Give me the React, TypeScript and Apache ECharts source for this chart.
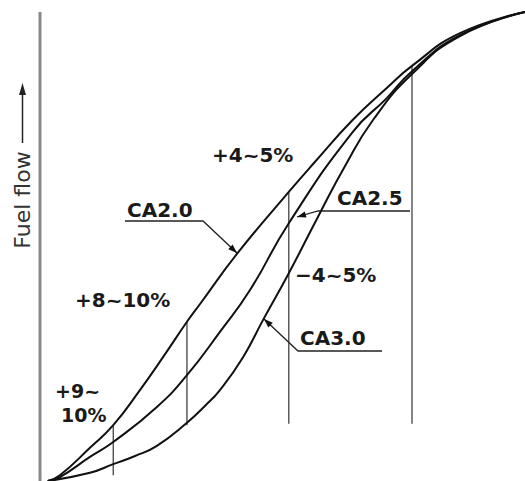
import React, { useEffect, useRef } from "react";
import * as echarts from "echarts";

// Curve CA2.0 (richest mixture)
const ca20X = [1.6, 4.1, 10.3, 15.1, 20.6, 25.4, 30.3, 33.0, 40.6, 51.3, 56.3, 64.5, 71.5, 76.7, 86.6, 100];
const ca20Y = [0, 1.2, 6.9, 11.6, 18.9, 25.8, 33.1, 36.8, 47.2, 60.1, 65.9, 75.1, 81.7, 86.3, 93.1, 97.5];
// Curve CA2.5
const ca25X = [1.6, 4.1, 10.3, 15.1, 24.1, 30.3, 37.1, 43.3, 51.3, 64.5, 71.5, 76.7, 86.6, 100];
const ca25Y = [0, 0.8, 5.0, 8.1, 15.4, 22.0, 31.0, 39.7, 53.6, 72.6, 79.6, 85.2, 92.7, 97.5];
// Curve CA3.0
const ca30X = [1.6, 10.3, 15.1, 19.6, 24.1, 30.3, 34.0, 37.1, 41.9, 46.0, 51.3, 57.3, 62.9, 68.7, 76.7, 86.6, 100];
const ca30Y = [0, 1.7, 3.5, 5.2, 7.3, 12.1, 15.6, 18.9, 25.8, 33.5, 43.2, 54.9, 65.5, 75.1, 84.6, 92.5, 97.5];
// Reference verticals
const refX = [15.1, 30.3, 51.3, 76.7];
const refTop = [11.6, 33.1, 60.1, 86.3];
const refBottom = [1.2, 11.6, 11.9, 11.9];
// Y axis line extent
const axisTop = 97.5;

const zip = (xs: number[], ys: number[]) => xs.map((x, i) => [x, ys[i]]);

function arrowHead(tip: number[], from: number[], len = 9, half = 3.2) {
  const dx = tip[0] - from[0];
  const dy = tip[1] - from[1];
  const d = Math.hypot(dx, dy) || 1;
  const ux = dx / d, uy = dy / d;
  const bx = tip[0] - ux * len, by = tip[1] - uy * len;
  return [tip, [bx - uy * half, by + ux * half], [bx + uy * half, by - ux * half]];
}

const FONT = "DejaVu Sans";
const textEl = (text: string, x: number, y: number, size = 20) => ({
  type: "text",
  x,
  y,
  style: {
    text,
    fill: "#1a1a1a",
    font: `bold ${size}px "${FONT}"`,
    textAlign: "left",
    textVerticalAlign: "middle",
  },
});

const leader = (pts: number[][]) => [
  {
    type: "polyline",
    shape: { points: pts },
    style: { stroke: "#222", lineWidth: 1.3, fill: null },
  },
  {
    type: "polygon",
    shape: { points: arrowHead(pts[pts.length - 1], pts[pts.length - 2]) },
    style: { fill: "#111" },
  },
];

export default function App() {
  const ref = useRef<HTMLDivElement>(null);
  useEffect(() => {
    if (!ref.current) return;
    const chart = echarts.init(ref.current, undefined, { renderer: "svg" });
    const curve = (name: string, xs: number[], ys: number[]) => ({
      name,
      type: "line",
      data: zip(xs, ys),
      smooth: 0.5,
      showSymbol: false,
      clip: false,
      lineStyle: { color: "#111", width: 2 },
    });
    const verticals = refX.map((x, i) => ({
      type: "line",
      data: [
        [x, refTop[i]],
        [x, refBottom[i]],
      ],
      showSymbol: false,
      lineStyle: { color: "#333", width: 1.2 },
    }));
    const option: any = {
      animation: false,
      grid: { left: 40, top: 0, width: 485, height: 481 },
      xAxis: { type: "value", min: 0, max: 100, show: false },
      yAxis: { type: "value", min: 0, max: 100, show: false },
      series: [
        {
          type: "line",
          data: [
            [0, 0],
            [0, axisTop],
          ],
          showSymbol: false,
          clip: false,
          lineStyle: { color: "#888", width: 3 },
        },
        ...verticals,
        curve("CA2.0", ca20X, ca20Y),
        curve("CA2.5", ca25X, ca25Y),
        curve("CA3.0", ca30X, ca30Y),
      ],
      graphic: [
        {
          type: "text",
          x: 22,
          y: 200,
          rotation: Math.PI / 2,
          style: {
            text: "Fuel flow",
            fill: "#333",
            font: `22px "${FONT}"`,
            textAlign: "center",
            textVerticalAlign: "middle",
          },
        },
        {
          type: "line",
          shape: { x1: 22.5, y1: 143, x2: 22.5, y2: 92 },
          style: { stroke: "#222", lineWidth: 1.5 },
        },
        {
          type: "polygon",
          shape: { points: [[22.5, 83], [19, 95], [26, 95]] },
          style: { fill: "#222" },
        },
        textEl("+4~5%", 212, 155),
        textEl("CA2.0", 127, 210),
        textEl("CA2.5", 337, 198),
        textEl("−4~5%", 295, 275),
        textEl("CA3.0", 300, 338),
        textEl("+8~10%", 75, 300),
        textEl("+9~", 55, 391, 19),
        textEl("10%", 61, 415, 19),
        ...leader([
          [125, 221],
          [203, 221],
          [237, 253],
        ]),
        ...leader([
          [410, 211],
          [318, 211],
          [297, 217],
        ]),
        ...leader([
          [382, 351],
          [298, 351],
          [264, 319],
        ]),
      ],
    };
    chart.setOption(option);
    return () => chart.dispose();
  }, []);
  return (
    <div
      ref={ref}
      style={{ position: "absolute", left: 0, top: 0, width: 525, height: 481, background: "#fff" }}
    />
  );
}
